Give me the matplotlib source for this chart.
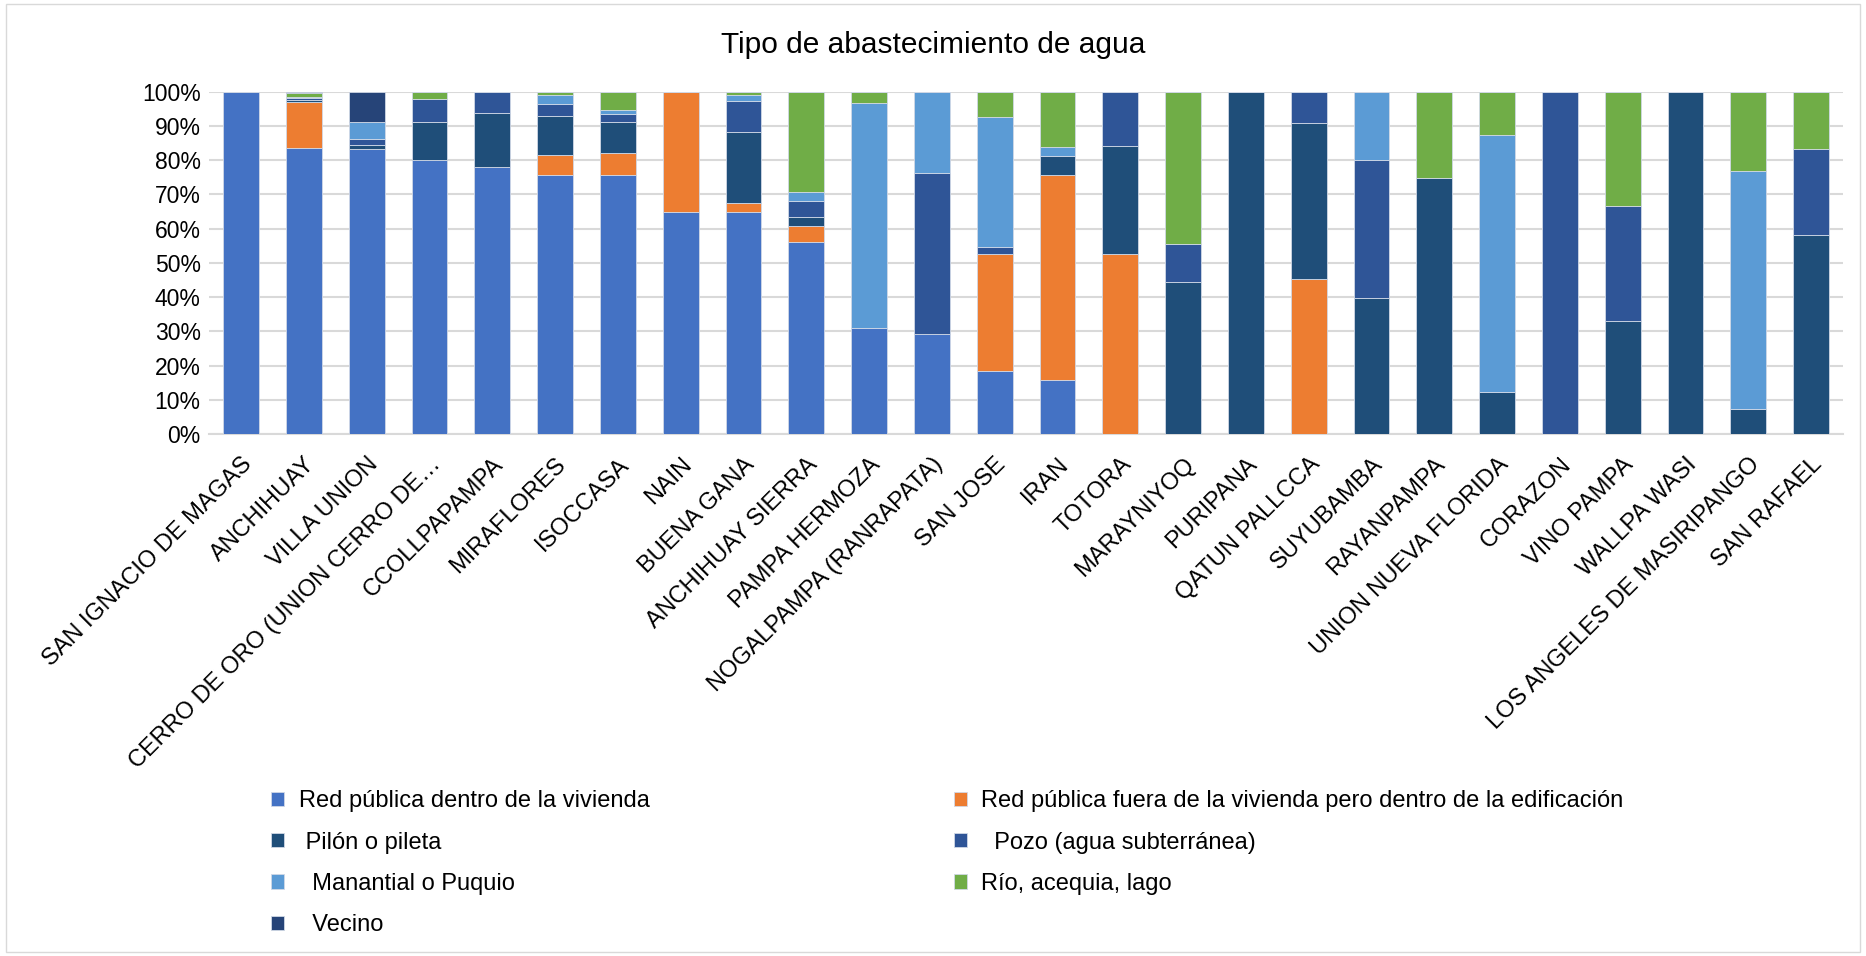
import numpy as np
import matplotlib
matplotlib.use("Agg")
from matplotlib import pyplot as plt
from matplotlib.patches import Rectangle

plt.rcParams['font.family'] = ['Liberation Sans', 'DejaVu Sans']

# categorias (centros poblados)
categorias = ["SAN IGNACIO DE MAGAS", "ANCHIHUAY", "VILLA UNION", "CERRO DE ORO (UNION CERRO DE…",
              "CCOLLPAPAMPA", "MIRAFLORES", "ISOCCASA", "NAIN", "BUENA GANA", "ANCHIHUAY SIERRA",
              "PAMPA HERMOZA", "NOGALPAMPA (RANRAPATA)", "SAN JOSE", "IRAN", "TOTORA", "MARAYNIYOQ",
              "PURIPANA", "QATUN PALLCCA", "SUYUBAMBA", "RAYANPAMPA", "UNION NUEVA FLORIDA",
              "CORAZON", "VINO PAMPA", "WALLPA WASI", "LOS ANGELES DE MASIRIPANGO", "SAN RAFAEL"]

# porcentajes por tipo de abastecimiento
red_dentro = [100, 83.5, 83.4, 80.0, 78.1, 75.8, 75.6, 64.8, 64.8, 56.0, 30.9, 29.3, 18.5, 15.9,
              0, 0, 0, 0, 0, 0, 0, 0, 0, 0, 0, 0]
red_fuera = [0, 13.4, 0, 0, 0, 5.8, 6.5, 35.2, 2.7, 4.9, 0, 0, 34.2, 59.7,
             52.6, 0, 0, 45.3, 0, 0, 0, 0, 0, 0, 0, 0]
pilon = [0, 0.6, 1.0, 11.1, 15.8, 11.3, 9.0, 0, 20.8, 2.6, 0, 0, 0, 5.5,
         31.6, 44.4, 100, 45.6, 39.8, 74.8, 12.2, 0, 33.0, 100, 7.2, 58.2]
pozo = [0, 0.6, 1.7, 6.7, 6.1, 3.6, 2.4, 0, 9.0, 4.6, 0, 47.1, 2.0, 0,
        15.8, 11.1, 0, 9.1, 40.2, 0, 0, 100, 33.6, 0, 0, 25.1]
manantial = [0, 0.5, 5.1, 0, 0, 2.7, 1.3, 0, 1.7, 2.6, 65.9, 23.6, 37.9, 2.7,
             0, 0, 0, 0, 20.0, 0, 75.3, 0, 0, 0, 69.7, 0]
rio = [0, 0.9, 0, 2.2, 0, 0.8, 5.2, 0, 1.0, 29.3, 3.2, 0, 7.4, 16.2,
       0, 44.5, 0, 0, 0, 25.2, 12.5, 0, 33.4, 0, 23.1, 16.7]
vecino = [0, 0.5, 8.8, 0, 0, 0, 0, 0, 0, 0, 0, 0, 0, 0,
          0, 0, 0, 0, 0, 0, 0, 0, 0, 0, 0, 0]

series = [("Red pública dentro de la vivienda", red_dentro, "#4472C4"),
          ("Red pública fuera de la vivienda pero dentro de la edificación", red_fuera, "#ED7D31"),
          (" Pilón o pileta", pilon, "#1F4E79"),
          ("  Pozo (agua subterránea)", pozo, "#2F5597"),
          ("  Manantial o Puquio", manantial, "#5B9BD5"),
          ("Río, acequia, lago", rio, "#70AD47"),
          ("  Vecino", vecino, "#264478")]

fig = plt.figure(figsize=(18.66, 9.56), dpi=100)
ax = fig.add_axes([0.112, 0.546, 0.8757, 0.358])

x = np.arange(len(categorias))
base = np.zeros(len(categorias))
handles = {}
for name, vals, col in series:
    v = np.array(vals)
    b = ax.bar(x, v, 0.57, bottom=base, color=col, edgecolor="#d0d8e6", linewidth=0.6, label=name, zorder=3)
    handles[name] = b
    base += v

ax.set_ylim(0, 100)
ax.set_xlim(-0.51, len(categorias) - 0.49)
ax.set_yticks(np.arange(0, 101, 10))
ax.set_yticklabels([f"{t}%" for t in range(0, 101, 10)], fontsize=16.5)
ax.set_xticks(x)
ax.set_xticklabels(categorias, rotation=45, ha="right", rotation_mode="anchor", fontsize=17)
ax.tick_params(axis="both", length=0)
ax.tick_params(axis="x", pad=14)
ax.tick_params(axis="y", pad=6)
ax.grid(axis="y", color="#D9D9D9", linewidth=1.5, zorder=0)
for s in ["top", "right", "left"]:
    ax.spines[s].set_visible(False)
ax.spines["bottom"].set_color("#D9D9D9")
ax.spines["bottom"].set_linewidth(1.5)

fig.text(0.5, 0.953, "Tipo de abastecimiento de agua", ha="center", va="center", fontsize=21.5)

# legend: fill by rows like the original
names = [s[0] for s in series]
order = [names[0], names[2], names[4], names[6], names[1], names[3], names[5]]
fig.legend([handles[n] for n in order], order, ncol=2, loc="center",
           bbox_to_anchor=(0.5077, 0.097), frameon=False, fontsize=17,
           handlelength=0.55, handleheight=0.55, handletextpad=0.6,
           labelspacing=0.82, columnspacing=12.9)

# marco del grafico
fig.patches.append(Rectangle((0.003, 0.004), 0.994, 0.992, transform=fig.transFigure,
                             fill=False, edgecolor="#D9D9D9", linewidth=1))

plt.savefig("out.png", dpi=100)
